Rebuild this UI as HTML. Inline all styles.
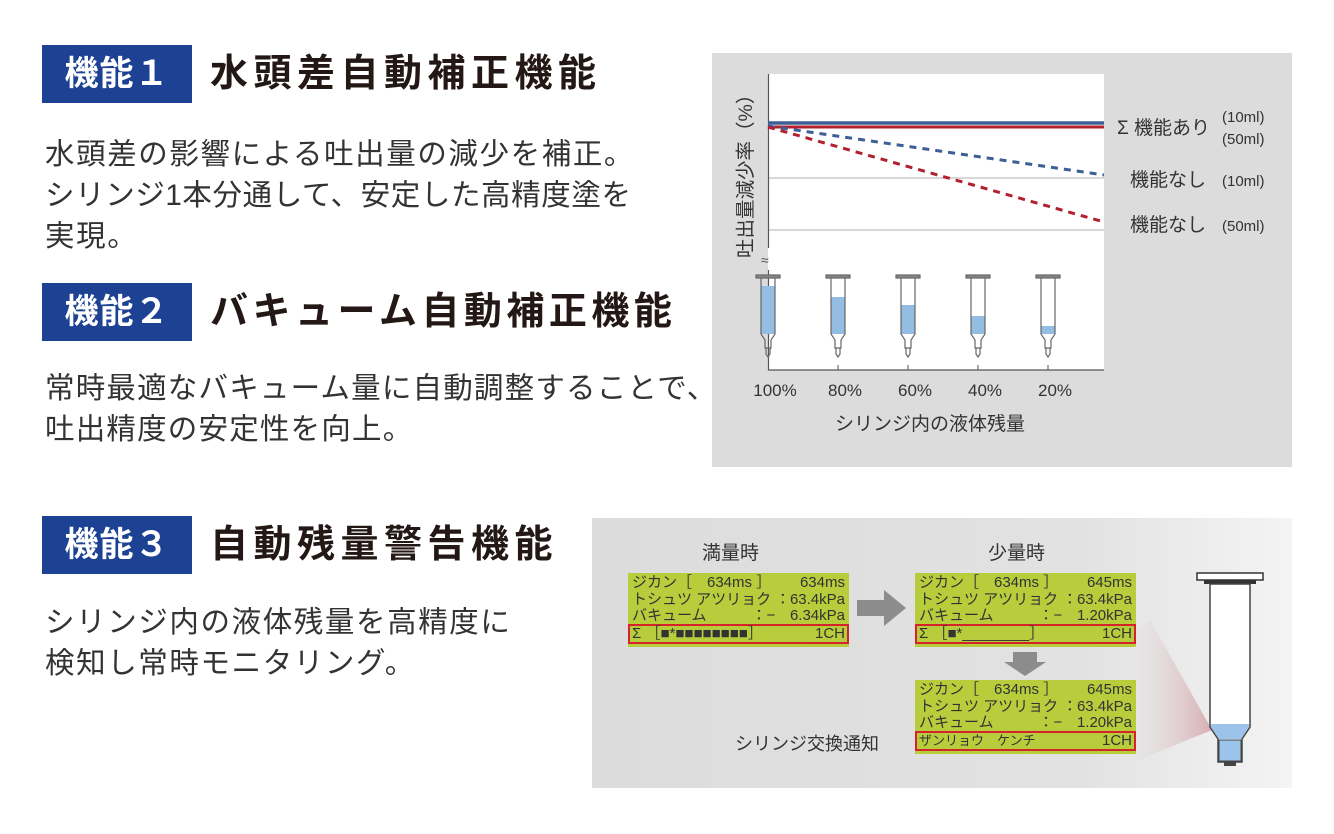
<!DOCTYPE html>
<html><head><meta charset="utf-8"><style>
body{margin:0;width:1334px;height:834px;background:#fff;position:relative;overflow:hidden;font-family:"Liberation Sans","Noto Sans CJK JP",sans-serif;color:#231815}
.a{position:absolute;white-space:nowrap}
.badge{position:absolute;left:42px;width:150px;height:58px;background:#1d4294;color:#fff;font-weight:bold;font-size:34px;line-height:58px;text-align:center;letter-spacing:1px}
.title{position:absolute;left:210px;font-size:38px;font-weight:bold;letter-spacing:5.5px;line-height:58px}
.body{position:absolute;left:45px;font-size:29.5px;line-height:41px;color:#333;letter-spacing:1.6px}
.lcd{position:absolute;width:221px;height:74px;background:#b8cd3c;font-size:15px;line-height:16.5px;color:#333;font-family:"Liberation Sans","Noto Sans CJK JP",sans-serif}
.lcd .r{position:absolute;left:4px;right:4px;height:17px}
.lcd .r span{position:absolute;right:0}
.lcd .box{position:absolute;left:0;right:0;top:51px;height:20px;border:2px solid #d6222a;box-sizing:border-box}
</style></head><body>
<div class="badge" style="top:45px">機能１</div>
<div class="title" style="top:45px">水頭差自動補正機能</div>
<div class="body" style="top:134px">水頭差の影響による吐出量の減少を補正。<br><span style="letter-spacing:0.6px">シリンジ1本分通して、安定した高精度塗を</span><br>実現。</div>
<div class="badge" style="top:283px">機能２</div>
<div class="title" style="top:283px;letter-spacing:4.5px">バキューム自動補正機能</div>
<div class="body" style="top:368px;letter-spacing:1.2px">常時最適なバキューム量に自動調整することで、<br>吐出精度の安定性を向上。</div>
<div class="badge" style="top:516px">機能３</div>
<div class="title" style="top:516px">自動残量警告機能</div>
<div class="body" style="top:602px">シリンジ内の液体残量を高精度に<br>検知し常時モニタリング。</div>

<div class="a" style="left:712px;top:53px;width:580px;height:414px;background:#dcdcdc"></div>
<svg class="a" style="left:712px;top:53px" width="580" height="414" viewBox="712 53 580 414">
<rect x="768" y="74" width="336" height="296" fill="#fff"/>
<line x1="768" y1="178" x2="1104" y2="178" stroke="#ccc" stroke-width="1.5"/>
<line x1="768" y1="230" x2="1104" y2="230" stroke="#ccc" stroke-width="1.5"/>
<line x1="768.5" y1="74" x2="768.5" y2="248" stroke="#555" stroke-width="1.2"/>
<line x1="768.5" y1="270" x2="768.5" y2="370" stroke="#555" stroke-width="1.2"/>
<text x="761" y="265" font-size="14" fill="#555">≈</text>
<line x1="768" y1="370" x2="1104" y2="370" stroke="#555" stroke-width="1.2"/>
<g stroke="#555"><line x1="838" y1="365" x2="838" y2="370"/><line x1="908" y1="365" x2="908" y2="370"/><line x1="978" y1="365" x2="978" y2="370"/><line x1="1048" y1="365" x2="1048" y2="370"/></g>
<line x1="768" y1="127" x2="1104" y2="127" stroke="#b41f2e" stroke-width="3"/>
<line x1="768" y1="123" x2="1104" y2="123" stroke="#3d5f96" stroke-width="3.5"/>
<line x1="768" y1="126" x2="1104" y2="175" stroke="#3d5f96" stroke-width="3" stroke-dasharray="7,6"/>
<line x1="768" y1="127" x2="1104" y2="222" stroke="#b41f2e" stroke-width="3" stroke-dasharray="7,6"/>
<g font-family="Liberation Sans, Noto Sans CJK JP, sans-serif" fill="#333">
<text x="0" y="0" font-size="19.5" transform="translate(752,258) rotate(-90)">吐出量減少率（%）</text>
<text x="1117" y="134" font-size="19">Σ 機能あり</text>
<text x="1222" y="122" font-size="15">(10ml)</text>
<text x="1222" y="144" font-size="15">(50ml)</text>
<text x="1130" y="186" font-size="19">機能なし</text><text x="1222" y="186" font-size="15">(10ml)</text>
<text x="1130" y="231" font-size="19">機能なし</text><text x="1222" y="231" font-size="15">(50ml)</text>
<g font-size="17" text-anchor="middle"><text x="775" y="396">100%</text><text x="845" y="396">80%</text><text x="915" y="396">60%</text><text x="985" y="396">40%</text><text x="1055" y="396">20%</text></g>
<text x="930" y="430" font-size="19" text-anchor="middle">シリンジ内の液体残量</text>
</g>
<g fill="#94bde3">
<rect x="761" y="286" width="14" height="48"/><rect x="831" y="297" width="14" height="37"/><rect x="901" y="305" width="14" height="29"/><rect x="971" y="316" width="14" height="18"/><rect x="1041" y="326" width="14" height="8"/>
</g>
<g fill="none" stroke="#666" stroke-width="1.2">
<g id="sy"><rect x="756" y="275" width="24" height="3" fill="#888"/><path d="M761 278 V334 L765 340 V348 H771 V340 L775 334 V278"/><path d="M766 348 V354 L768 357 L770 354 V348"/></g>
<use href="#sy" x="70"/><use href="#sy" x="140"/><use href="#sy" x="210"/><use href="#sy" x="280"/>
</g>
</svg>

<div class="a" style="left:592px;top:518px;width:700px;height:270px;background:linear-gradient(90deg,#dcdcdc 0%,#e2e2e2 70%,#f4f4f4 100%)"></div>
<div class="a" style="left:702px;top:538px;font-size:19px;color:#333">満量時</div>
<div class="a" style="left:988px;top:538px;font-size:19px;color:#333">少量時</div>
<div class="a" style="left:735px;top:730px;font-size:18px;color:#333">シリンジ交換通知</div>
<svg class="a" style="left:592px;top:518px" width="700" height="270" viewBox="592 518 700 270">
<polygon points="857,600 884,600 884,590 906,608 884,626 884,616 857,616" fill="#8c8c8c"/>
<polygon points="1013,652 1037,652 1037,662 1046,662 1025,676 1004,662 1013,662" fill="#8c8c8c"/>
<defs><linearGradient id="g" x1="0" x2="1"><stop offset="0" stop-color="#e0d8d8" stop-opacity="0.3"/><stop offset="1" stop-color="#c8828c"/></linearGradient></defs>
<polygon points="1138,630 1150,620 1212,730 1138,760" fill="url(#g)" opacity="0.6"/>
<rect x="1197" y="573" width="66" height="7" fill="#fff" stroke="#333" stroke-width="1.5"/>
<rect x="1204" y="580" width="52" height="4" fill="#333"/>
<path d="M1210 584 V727 L1218 739 V762 H1242 V739 L1250 727 V584 Z" fill="#fff" stroke="#444" stroke-width="1.5"/>
<path d="M1211 724 H1249 V727 L1241 739 H1219 L1211 727 Z" fill="#9cc4ea"/>
<rect x="1219" y="740" width="22" height="21" fill="#9cc4ea" stroke="#444"/>
<rect x="1224" y="762" width="12" height="4" fill="#444"/>
</svg>

<div class="lcd" style="left:628px;top:573px">
<div class="r" style="top:2px">ジカン［　634ms ］<span>634ms</span></div>
<div class="r" style="top:19px">トシュツ アツリョク ：<span>63.4kPa</span></div>
<div class="r" style="top:35px;height:14px;overflow:hidden">バキューム　　　：−<span>6.34kPa</span></div>
<div class="box"></div>
<div class="r" style="top:53px">Σ ［■*■■■■■■■■］<span>1CH</span></div>
</div>
<div class="lcd" style="left:915px;top:573px">
<div class="r" style="top:2px">ジカン［　634ms ］<span>645ms</span></div>
<div class="r" style="top:19px">トシュツ アツリョク ：<span>63.4kPa</span></div>
<div class="r" style="top:35px;height:14px;overflow:hidden">バキューム　　　：−<span>1.20kPa</span></div>
<div class="box"></div>
<div class="r" style="top:53px">Σ ［■*________］<span>1CH</span></div>
</div>
<div class="lcd" style="left:915px;top:680px">
<div class="r" style="top:2px">ジカン［　634ms ］<span>645ms</span></div>
<div class="r" style="top:19px">トシュツ アツリョク ：<span>63.4kPa</span></div>
<div class="r" style="top:35px;height:14px;overflow:hidden">バキューム　　　：−<span>1.20kPa</span></div>
<div class="box"></div>
<div class="r" style="top:53px;font-size:13px">ザンリョウ　ケンチ<span style="font-size:15px">1CH</span></div>
</div>
</body></html>
